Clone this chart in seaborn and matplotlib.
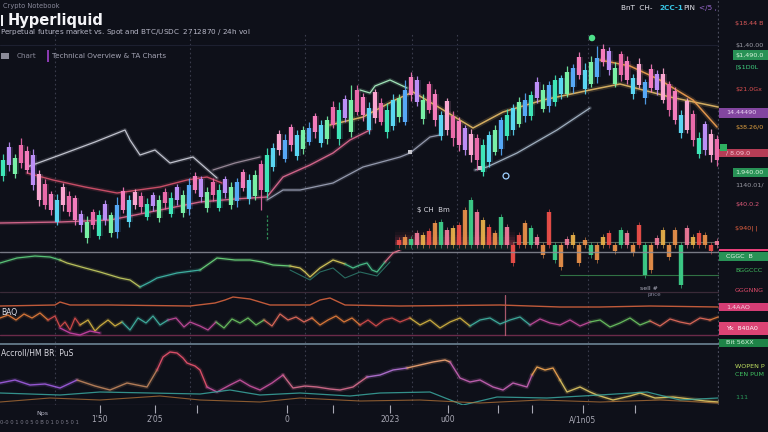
import numpy as np
import pandas as pd
import matplotlib
matplotlib.use("Agg")
import matplotlib.pyplot as plt
from matplotlib.patches import Rectangle
import seaborn as sns

sns.set_theme(style="dark")
plt.rcParams["font.family"] = ["DejaVu Sans"]
plt.rcParams["patch.edgecolor"] = "none"

BG = "#0e1019"
W, H = 768, 432

# ------------------------------------------------------------------ price candles
opens = [35.4, 38.3, 35.6, 38.5, 37.9, 37.5, 35.6, 34.6, 33.6, 30.8,
         34.3, 33.4, 33.2, 31.6, 29.2, 31.8, 29.4, 32.6, 29.7, 29.8,
         33.9, 30.8, 33.8, 33.4, 31.3, 33.5, 31.2, 33.8, 31.6, 34.3,
         31.7, 32.1, 35.4, 35.1, 32.2, 34.8, 32.2, 35.1, 32.5, 32.9,
         35.8, 33.1, 33.4, 36.6, 33.8, 36.3, 39.6, 37.1, 40.3, 37.4,
         38.1, 38.8, 41.4, 38.7, 39.1, 42.3, 39.1, 43.1, 39.8, 44.0,
         43.3, 40.0, 43.8, 42.7, 39.8, 40.4, 41.3, 40.8, 45.3, 45.0,
         41.1, 44.6, 43.6, 39.4, 42.9, 41.4, 40.9, 40.2, 39.6, 39.2,
         35.8, 36.8, 37.8, 38.1, 39.4, 40.0, 40.6, 41.4, 41.4, 44.8,
         42.1, 42.4, 42.8, 43.6, 43.6, 44.3, 47.3, 44.1, 44.6, 45.3,
         48.1, 47.9, 44.6, 47.6, 46.9, 43.6, 46.6, 43.2, 46.1, 45.6,
         45.6, 44.6, 43.9, 39.7, 42.9, 41.6, 37.6, 40.6, 39.6, 39.1]
closes = [37.0, 36.5, 37.2, 36.7, 36.0, 34.5, 33.0, 32.5, 32.0, 33.0,
          32.5, 31.8, 31.0, 30.5, 30.8, 30.5, 31.5, 31.0, 31.5, 32.5,
          32.0, 33.0, 32.5, 32.3, 32.6, 32.4, 33.0, 32.7, 33.2, 33.0,
          33.5, 34.5, 34.0, 33.3, 33.8, 33.5, 34.0, 33.7, 34.3, 34.8,
          34.2, 35.0, 35.5, 34.0, 37.5, 38.2, 38.0, 39.0, 38.5, 39.5,
          40.0, 40.2, 39.8, 40.5, 41.0, 40.5, 42.0, 41.2, 43.0, 41.8,
          41.5, 42.2, 41.2, 40.8, 42.0, 43.0, 43.2, 44.0, 43.5, 42.8,
          43.0, 42.0, 41.0, 41.5, 40.0, 39.2, 38.5, 38.0, 37.5, 37.0,
          38.5, 39.5, 40.0, 41.0, 41.5, 42.2, 42.8, 43.0, 43.5, 43.2,
          44.0, 44.5, 45.0, 45.2, 45.8, 46.2, 45.5, 46.0, 46.8, 47.2,
          46.8, 46.0, 46.2, 45.5, 45.0, 45.2, 44.5, 44.8, 44.2, 44.0,
          43.0, 42.0, 41.0, 41.5, 40.0, 39.0, 39.2, 38.0, 37.5, 37.0]
wick_up = [0.6, 0.5, 0.4, 0.7, 0.5, 0.6, 0.4, 0.5, 0.3, 0.6,
           0.4, 0.5, 0.3, 0.4, 0.6, 0.3, 0.5, 0.4, 0.3, 0.8,
           0.4, 0.5, 0.3, 0.4, 0.6, 0.3, 0.5, 0.4, 0.6, 0.3,
           0.5, 0.7, 0.4, 0.3, 0.5, 0.4, 0.6, 0.3, 0.5, 0.4,
           0.3, 0.6, 0.5, 0.4, 0.7, 0.5, 0.4, 0.6, 0.3, 0.5,
           0.4, 0.6, 0.3, 0.5, 0.4, 0.6, 0.8, 0.4, 1.5, 0.5,
           0.4, 0.6, 0.3, 0.5, 0.7, 0.6, 0.4, 1.0, 0.5, 0.4,
           0.6, 0.3, 0.5, 0.4, 0.3, 0.5, 0.4, 0.3, 0.5, 0.4,
           0.6, 0.4, 0.5, 0.3, 0.6, 0.4, 0.5, 0.7, 0.4, 0.5,
           0.6, 0.4, 0.5, 0.3, 0.6, 0.4, 0.5, 0.7, 0.6, 1.2,
           0.5, 0.4, 0.6, 0.3, 0.5, 0.4, 0.6, 0.3, 0.5, 0.4,
           0.6, 0.3, 0.4, 0.5, 0.3, 0.4, 0.6, 0.3, 0.5, 0.4]
wick_dn = [0.5, 0.6, 0.4, 0.5, 0.3, 0.5, 0.6, 0.4, 0.5, 0.3,
           0.6, 0.4, 0.5, 0.7, 0.5, 0.4, 0.3, 0.5, 0.4, 0.6,
           0.3, 0.5, 0.4, 0.6, 0.3, 0.5, 0.4, 0.6, 0.3, 0.5,
           0.4, 0.6, 0.3, 0.5, 0.4, 0.6, 0.3, 0.5, 0.4, 0.6,
           0.3, 0.5, 0.4, 2.0, 0.6, 0.4, 0.5, 0.3, 0.6, 0.4,
           0.5, 0.3, 0.6, 0.4, 0.5, 0.3, 0.6, 0.4, 0.5, 0.3,
           0.6, 0.4, 0.5, 0.3, 0.6, 0.4, 0.5, 0.3, 0.6, 0.4,
           0.5, 0.3, 0.6, 0.4, 0.5, 0.8, 0.6, 0.5, 0.7, 1.0,
           0.4, 0.5, 0.3, 0.6, 0.4, 0.5, 0.3, 0.6, 0.4, 0.5,
           0.3, 0.6, 0.4, 0.5, 0.3, 0.6, 0.4, 0.5, 0.3, 0.6,
           0.4, 0.5, 0.3, 0.6, 0.4, 0.5, 0.3, 0.6, 0.4, 0.5,
           0.3, 0.6, 0.4, 0.5, 0.3, 0.6, 0.4, 0.5, 0.7, 0.6]

# ------------------------------------------------------------------ price-pane overlays (minute, price)
gold_t = [330, 363, 395, 413, 440, 473, 503, 543, 590, 620, 670, 718]
gold_ma = [40.5, 41.3, 43.0, 43.8, 42.2, 40.2, 41.8, 43.0, 44.0, 44.6, 43.3, 42.3]
orange_t = [600, 630, 660, 693, 717]
orange_ma = [47.0, 46.4, 45.0, 43.0, 40.3]
rose_t = [0, 60, 110, 160, 200, 235, 267, 283, 310, 333, 350, 370]
rose_ma = [30.7, 30.8, 31.0, 32.0, 32.8, 33.1, 33.3, 35.3, 36.5, 37.7, 39.0, 40.0]
red_t = [27, 53, 85, 117, 160, 187, 207, 222]
red_ma = [35.7, 35.0, 34.3, 33.7, 34.3, 35.0, 35.3, 34.7]
white_t = [27, 60, 95, 125, 130, 140, 155, 170, 193, 217]
white_ln = [36.3, 37.5, 38.8, 40.0, 39.0, 37.5, 38.0, 36.7, 37.3, 35.2]
grey_t = [213, 235, 260]
grey_ln = [36.0, 36.7, 37.3]
slate_t = [267, 283, 300, 333, 363, 400, 410, 430, 440]
slate_ln = [33.0, 34.0, 34.0, 34.7, 36.3, 37.3, 37.7, 39.3, 39.5]
mist_t = [475, 487, 517, 557, 590]
mist_ln = [36.0, 36.3, 37.7, 40.0, 42.2]
mint_t = [360, 370, 375, 390, 407]
mint_ln = [44.0, 43.7, 44.4, 45.0, 44.2]
signal_t = [592, 506, 480, 410]
signal_px = [49.2, 35.4, 36.2, 37.8]
signal_kind = ["peak", "ring", "box", "box"]

# ------------------------------------------------------------------ order-flow bars (last 54 candles)
flow = [5, 8, 6, 12, 10, 14, 22, 23, 15, 17,
        20, 35, 45, 33, 25, 18, 12, 28, 18, -18,
        10, 22, 17, 8, -10, 33, -15, -22, 6, 10,
        -18, 5, -10, -15, 8, 12, -6, 15, 12, -8,
        20, -30, -25, 7, 15, -12, 15, -40, 17, 8,
        12, 10, -6, 4]

# ------------------------------------------------------------------ oscillator 1
osc1_t = [0, 17, 35, 50, 60, 67, 85, 100, 120, 130, 140, 150, 157, 177, 200, 210, 217, 235,
          250, 262, 273, 290, 300, 305, 310, 320, 333, 345, 353, 360, 367, 372, 377, 385, 393, 400]
osc1 = [37, 42, 44, 43, 40, 37, 32, 28, 22, 20, 13, 18, 22, 27, 30, 37, 42, 40,
        40, 38, 35, 34, 32, 28, 23, 32, 40, 36, 32, 35, 37, 30, 28, 38, 47, 50]
osc1b_t = [290, 300, 310, 320, 333, 345, 360, 377, 390]
osc1b = [30, 25, 20, 28, 32, 22, 28, 24, 38]

# ------------------------------------------------------------------ oscillator 2
base2_t = [0, 55, 60, 70, 110, 190, 215, 225, 233, 250, 270, 310, 320, 330, 345, 400, 500, 560, 600, 650, 718]
base2 = [39, 40, 43, 40, 40, 39, 42, 45, 48, 46, 40, 40, 45, 47, 40, 39, 40, 38, 38, 39, 38]
osc2_t = [0, 8, 16, 24, 32, 40, 48, 55, 60, 65, 70, 75, 80, 88, 95, 100, 108, 115, 122, 130,
          138, 146, 153, 160, 168, 176, 184, 190, 200, 208, 216, 224, 232, 240, 248, 256, 264,
          272, 280, 288, 296, 304, 312, 320, 328, 336, 344, 352, 360, 368, 376, 384, 392, 400,
          410, 420, 430, 440, 450, 460, 470, 480, 490, 500, 510, 520, 530, 540, 550, 560, 570,
          580, 590, 600, 610, 620, 630, 640, 650, 660, 670, 680, 690, 700, 710, 718]
osc2 = [27, 30, 25, 31, 27, 32, 25, 29, 18, 23, 15, 27, 20, 25, 14, 19, 25, 19, 23, 15,
        27, 22, 29, 20, 25, 27, 18, 23, 19, 15, 23, 17, 26, 22, 27, 20, 25,
        19, 31, 25, 28, 23, 27, 20, 25, 29, 23, 27, 20, 25, 19, 25, 27, 23,
        27, 20, 25, 17, 23, 27, 19, 25, 27, 21, 25, 28, 20, 26, 22, 20, 25,
        19, 23, 25, 18, 22, 27, 20, 24, 19, 26, 23, 21, 27, 25, 28]
dip_t = [60, 70, 80, 90, 100]
dip = [17, 12, 10, 14, 12]

# ------------------------------------------------------------------ oscillator 3
osc3_t = [0, 15, 30, 45, 60, 77, 95, 110, 127, 147, 157, 163, 170, 177, 183, 187, 195, 200, 207, 217,
          230, 240, 250, 260, 272, 283, 293, 305, 317, 330, 340, 353, 367, 380, 393, 407, 420, 433, 445, 450,
          460, 470, 480, 493, 503, 513, 527, 532, 537, 545, 553, 560, 567, 580, 590, 597, 613, 630, 640, 655,
          673, 690, 705, 718]
osc3 = [22, 25, 20, 21, 17, 25, 19, 15, 22, 18, 35, 48, 53, 52, 47, 42, 39, 35, 18, 13,
        20, 25, 19, 15, 22, 30, 17, 19, 18, 16, 15, 18, 28, 30, 35, 37, 40, 43, 45, 43,
        27, 23, 25, 18, 15, 22, 18, 30, 38, 35, 37, 25, 13, 18, 13, 10, 5, 9, 12, 7,
        8, 6, 4, 3]
teal3_t = [0, 60, 100, 150, 200, 230, 260, 300, 350, 380, 430, 463, 497, 547, 600, 647, 680, 718]
teal3 = [12, 10, 13, 12, 11, 15, 10, 12, 9, 12, 13, 0, 8, 7, 10, 13, 5, 7]
amber3_t = [0, 50, 100, 160, 200, 260, 300, 360, 420, 480, 540, 600, 660, 718]
amber3 = [3, 7, 5, 9, 5, 3, 7, 4, 5, 2, 5, 3, 5, 2]

time_ticks = [100, 155, 197, 287, 333, 390, 448, 498, 532, 583, 635]
time_labels = ["1'50", "2'05", "", "0", "", "2023", "u00", "", "", "A/1n05", ""]
session_marks = [55, 190, 305, 358, 412, 457, 588]

# ------------------------------------------------------------------ figure
fig = plt.figure(figsize=(W / 100, H / 100), dpi=100, facecolor=BG)


def pane(top, bottom, left=0, right=719):
    ax = fig.add_axes([left / W, 1 - bottom / H, (right - left) / W, (bottom - top) / H])
    ax.set_facecolor("none")
    ax.set_xlim(0, 719)
    ax.axis("off")
    return ax


def trace(ax, t, v, color, lw=1.0, alpha=1.0, zorder=3):
    sns.lineplot(x=list(t), y=list(v), ax=ax, color=color, lw=lw, alpha=alpha,
                 estimator=None, sort=False, legend=False, zorder=zorder)


def glow_trace(ax, t, v, color, lw=1.0):
    trace(ax, t, v, color, lw=lw * 3.2, alpha=0.18, zorder=2)
    trace(ax, t, v, color, lw=lw, alpha=0.95, zorder=3)


def banded_trace(ax, t, v, bounds, colors, lw=1.0):
    t = np.asarray(t)
    v = np.asarray(v)
    for (a, b), c in zip(bounds, colors):
        m = (t >= a) & (t <= b)
        glow_trace(ax, t[m], v[m], c, lw)


# grid pane that spans all panels
grid_ax = pane(0, 405)
grid_ax.set_ylim(0, 405)
for x in session_marks:
    grid_ax.axvline(x, ymin=0, ymax=0.92, color="#3a3c4c", lw=0.8, ls=(0, (1.5, 2.5)), zorder=0)
grid_ax.axvline(718, color="#4a4c5c", lw=0.9, ls=(0, (1.5, 2)), zorder=0)
grid_ax.axvline(267, ymin=0.41, ymax=0.47, color="#2f8a55", lw=0.9, ls=(0, (2, 1.5)))

# ----- price pane
ax = pane(0, 250)
ax.set_ylim(28, 53)
ax.axhline(48.5, color="#1d2030", lw=0.8, zorder=0)

o = np.asarray(opens)
c = np.asarray(closes)
t = 3 + 6 * np.arange(len(c))
hi = np.maximum(o, c) + np.asarray(wick_up)
lo = np.minimum(o, c) - np.asarray(wick_dn)
up_cols = ["#3fe6b8", "#5ad6f2", "#78f0a6", "#56a8f6"]
dn_cols = ["#f47cbc", "#bc8ef6", "#faa6d0", "#ea6aaa"]
cols = [up_cols[i % 4] if c[i] >= o[i] else dn_cols[i % 4] for i in range(len(c))]
ax.vlines(t, lo, hi, colors=cols, lw=0.9, alpha=0.9, zorder=4)
ax.bar(t, np.abs(c - o), bottom=np.minimum(o, c), width=7.0, color=cols, alpha=0.16,
       linewidth=0, zorder=3)
ax.bar(t, np.abs(c - o), bottom=np.minimum(o, c), width=4.4, color=cols,
       linewidth=0, zorder=5)

glow_trace(ax, rose_t, rose_ma, "#d8688e", 1.0)
glow_trace(ax, red_t, red_ma, "#d0506a", 1.0)
glow_trace(ax, white_t, white_ln, "#c9cbd6", 0.9)
glow_trace(ax, grey_t, grey_ln, "#9c8c9c", 0.9)
glow_trace(ax, slate_t, slate_ln, "#9aa0b4", 0.9)
glow_trace(ax, mist_t, mist_ln, "#a6b6c6", 0.9)
glow_trace(ax, mint_t, mint_ln, "#a8eec0", 0.9)
glow_trace(ax, gold_t, gold_ma, "#dcb464", 1.1)
glow_trace(ax, orange_t, orange_ma, "#e89a4e", 1.1)

sig = pd.DataFrame({"t": signal_t, "p": signal_px, "kind": signal_kind})
sns.scatterplot(data=sig[sig.kind == "peak"], x="t", y="p", ax=ax, color="#4ee08a",
                s=22, marker="o", edgecolor="none", zorder=6, legend=False)
sns.scatterplot(data=sig[sig.kind == "ring"], x="t", y="p", ax=ax, facecolor="none",
                edgecolor="#9ed0ff", s=18, marker="o", lw=0.9, zorder=6, legend=False)
sns.scatterplot(data=sig[sig.kind == "box"], x="t", y="p", ax=ax, color="#c8c8d0",
                s=10, marker="s", edgecolor="none", zorder=6, legend=False)
ax.set_xlim(0, 719)

# ----- order-flow pane
axv = pane(195, 300)
axv.set_ylim(-55, 50)
ft = t[len(t) - len(flow):]
fv = np.asarray(flow)
pos_cols = ["#f0504a", "#e8904a", "#3ed08a", "#f07a9a", "#e8b04a"]
neg_cols = ["#e8904a", "#f0504a", "#3ed08a"]
fcols = [pos_cols[i % 5] if v >= 0 else neg_cols[i % 3] for i, v in enumerate(fv)]
for k, a in zip(range(6), np.linspace(0.22, 0.04, 6)):
    axv.fill_between([395, 515], 0, 3 + 2.5 * k, color="#e0506a", alpha=a * 0.6, lw=0, zorder=1)
axv.fill_between([395, 515], -5, 0, color="#3ed08a", alpha=0.08, lw=0)
axv.bar(ft, fv, width=6.2, color=fcols, alpha=0.18, linewidth=0, zorder=2)
axv.bar(ft, fv, width=3.6, color=fcols, alpha=0.92, linewidth=0, zorder=3)
axv.vlines(ft, np.minimum(fv, 0) - 3, np.maximum(fv, 0) + 3, colors=fcols, lw=0.6, alpha=0.7)
axv.axhline(3, xmin=513 / 719, xmax=1, color="#7a8a7a", lw=0.8, alpha=0.7)
axv.axhline(-30, xmin=560 / 719, xmax=1, color="#3a8a50", lw=0.8, alpha=0.8)
axv.text(417, 33, "$ CH  Bm", color="#d8d8e0", fontsize=5)
axv.text(640, -45, "sell #", color="#b0b0c0", fontsize=4.5)
axv.text(648, -51, "price", color="#8a8aa0", fontsize=4)

# ----- oscillator 1
ax1 = pane(250, 300)
ax1.set_ylim(0, 50)
ax1.axhline(48, color="#8a8c98", lw=1.0, alpha=0.85)
ax1.axhline(8, color="#3a2a38", lw=0.9)
banded_trace(ax1, osc1_t, osc1,
             [(0, 60), (60, 140), (140, 200), (200, 290), (290, 345), (345, 385), (385, 400)],
             ["#5cc97a", "#c0c860", "#3fb5a5", "#6ad27a", "#d6c85a", "#4ac08a", "#e0708a"], 0.9)
trace(ax1, osc1b_t, osc1b, "#3aa890", lw=0.8, alpha=0.6)

# ----- oscillator 2
ax2 = pane(295, 345)
ax2.set_ylim(0, 50)
ax2.axhline(10, color="#6a2a4a", lw=1.0)
ax2.axhline(0.6, color="#6c8494", lw=1.2)
ax2.axvline(505, ymin=0.2, ymax=1.0, color="#d06a80", lw=0.9, alpha=0.8)
trace(ax2, base2_t, base2, "#c05a3a", lw=1.0)
seg_cols = ["#e07a3a", "#d04a4a", "#d0b040", "#40b0a0", "#c04a9a", "#6ac060", "#e06a5a"]
n2 = len(osc2)
for j, k in enumerate(range(0, n2 - 1, 6)):
    glow_trace(ax2, osc2_t[k:k + 7], osc2[k:k + 7], seg_cols[j % len(seg_cols)], 0.9)
glow_trace(ax2, dip_t, dip, "#c040a0", 1.0)
ax2.text(1, 30, "BAQ", color="#e0e0e8", fontsize=5.5)

# ----- oscillator 3
ax3 = fig.add_axes([0, 1 - 405 / H, 719 / W, 60 / H])
ax3.set_facecolor("none")
ax3.set_xlim(0, 719)
ax3.set_ylim(0, 60)
for s in ax3.spines.values():
    s.set_visible(False)
ax3.axhline(0.4, color="#2a2234", lw=1.0)
banded_trace(ax3, osc3_t, osc3,
             [(0, 77), (77, 157), (157, 207), (207, 283), (283, 367), (367, 407),
              (407, 450), (450, 532), (532, 560), (560, 718)],
             ["#9a5ad8", "#b8805a", "#e0506a", "#c0509a", "#d06a8a", "#b070d0",
              "#e8a070", "#c060b0", "#e8a050", "#d8c060"], 1.0)
trace(ax3, teal3_t, teal3, "#3aa8a0", lw=0.9, alpha=0.85)
trace(ax3, amber3_t, amber3, "#c07a3a", lw=0.8, alpha=0.7)
ax3.set_yticks([])
ax3.set_xticks(time_ticks)
ax3.set_xticklabels(time_labels)
ax3.tick_params(axis="x", colors="#a8a8b4", labelsize=5.5, length=6, width=0.8,
                direction="out", pad=1.5, bottom=True)
ax3.set_xlabel("")
ax3.set_ylabel("")
ax3.text(1, 49, "Accroll/HM BR  PuS", color="#d8d8e0", fontsize=5.5)

# ------------------------------------------------------------------ header text
def ftext(x, y, s, **kw):
    fig.text(x / W, 1 - y / H, s, va="center", ha="left", **kw)


ftext(3, 6, "Crypto Notebook", color="#8a8a9c", fontsize=4.8)
fig.add_artist(Rectangle((1 / W, 1 - 26 / H), 2.2 / W, 11 / H, transform=fig.transFigure,
                         color="#f0f0f4", lw=0))
ftext(8, 20, "Hyperliquid", color="#f4f4f8", fontsize=10.5, fontweight="bold")
ftext(0, 32, "Perpetual futures market vs. Spot and BTC/USDC  $27 $12870 / 24h vol",
      color="#b8b8c8", fontsize=5.2)
fig.add_artist(Rectangle((1 / W, 1 - 59 / H), 8 / W, 6 / H, transform=fig.transFigure,
                         facecolor="#8a8a98", lw=0))
ftext(17, 56, "Chart", color="#8a8a9a", fontsize=5.2)
fig.add_artist(Rectangle((47 / W, 1 - 62 / H), 2 / W, 12 / H, transform=fig.transFigure,
                         facecolor="#8a3ab0", lw=0))
ftext(52, 56, "Technical Overview & TA Charts", color="#a4a4b4", fontsize=5.2)

ftext(621, 8, "BnT  CH-", color="#e8e8f0", fontsize=5.2)
ftext(659, 8, "2CC-1", color="#38c8e8", fontsize=5.2, fontweight="bold")
ftext(683, 8, "PIN", color="#e0e0e8", fontsize=5.2)
ftext(699, 8, "</5 ,", color="#9a6ad0", fontsize=5.2)

# ------------------------------------------------------------------ right price column
quotes = [
    (23, "$18.44 B", "#e05a5a", None, 733, 9),
    (45, "$1,40.00", "#a0a0aa", None, 733, 9),
    (55, "$1,490.0", "#d8f4dc", "#2a9a5a", 733, 9),
    (68, "[$1D0L", "#40d080", None, 733, 9),
    (89, "$21.0Gx", "#e05050", None, 733, 9),
    (113, "14.44490", "#ecd4f4", "#8a4aa8", 719, 10),
    (128, "$38.26/0", "#e0a040", None, 733, 9),
    (153, "/ 8.09.0", "#f4c4d4", "#c0405a", 719, 8),
    (172, "1,940.00", "#d8f4dc", "#2a9a5a", 733, 9),
    (185, "1140.01/", "#9a9aa4", None, 733, 9),
    (205, "$40.0.2", "#e05a7a", None, 733, 9),
    (228, "$940| |", "#e06040", None, 733, 9),
    (256, "CGGC  B", "#e8f4e8", "#2a9a5a", 719, 9),
    (270, "BGGCCC", "#40c060", None, 733, 9),
    (290, "GGGNNG", "#e04a6a", None, 733, 9),
    (307, "1,4AAO", "#f4d4e0", "#e0407a", 719, 8),
    (328, "Yk  840A0", "#ffffff", "#e8487a", 719, 13),
    (343, "Bit 56XX", "#d4f4dc", "#1f8a4a", 719, 8),
    (366, "WOPEN P", "#c0e060", None, 733, 9),
    (374, "CEN PUM", "#40c060", None, 733, 9),
    (397, "$11$1", "#2a9a5a", None, 733, 9),
]
for y, s, tc, bc, x0, h in quotes:
    if bc is not None:
        fig.add_artist(Rectangle((x0 / W, 1 - (y + h / 2) / H), (W - x0) / W, h / H,
                                 transform=fig.transFigure, facecolor=bc, lw=0, alpha=0.95))
    ftext(735 if x0 == 733 else 726, y, s, color=tc, fontsize=4.6)
fig.add_artist(Rectangle((719 / W, 1 - 251 / H), 49 / W, 2 / H, transform=fig.transFigure,
                         facecolor="#e8407a", lw=0))
fig.add_artist(Rectangle((720 / W, 1 - 151 / H), 7 / W, 7 / H, transform=fig.transFigure,
                         facecolor="#2fb060", lw=0))

ftext(36, 413, "Nps", color="#b8b8c8", fontsize=4.5)
ftext(0, 423, "0-0 0 1 0 0 5 0 B 0 1 0 0 5 0 1", color="#7a7a88", fontsize=3.8)

fig.savefig("out.png", dpi=100, facecolor=BG)
